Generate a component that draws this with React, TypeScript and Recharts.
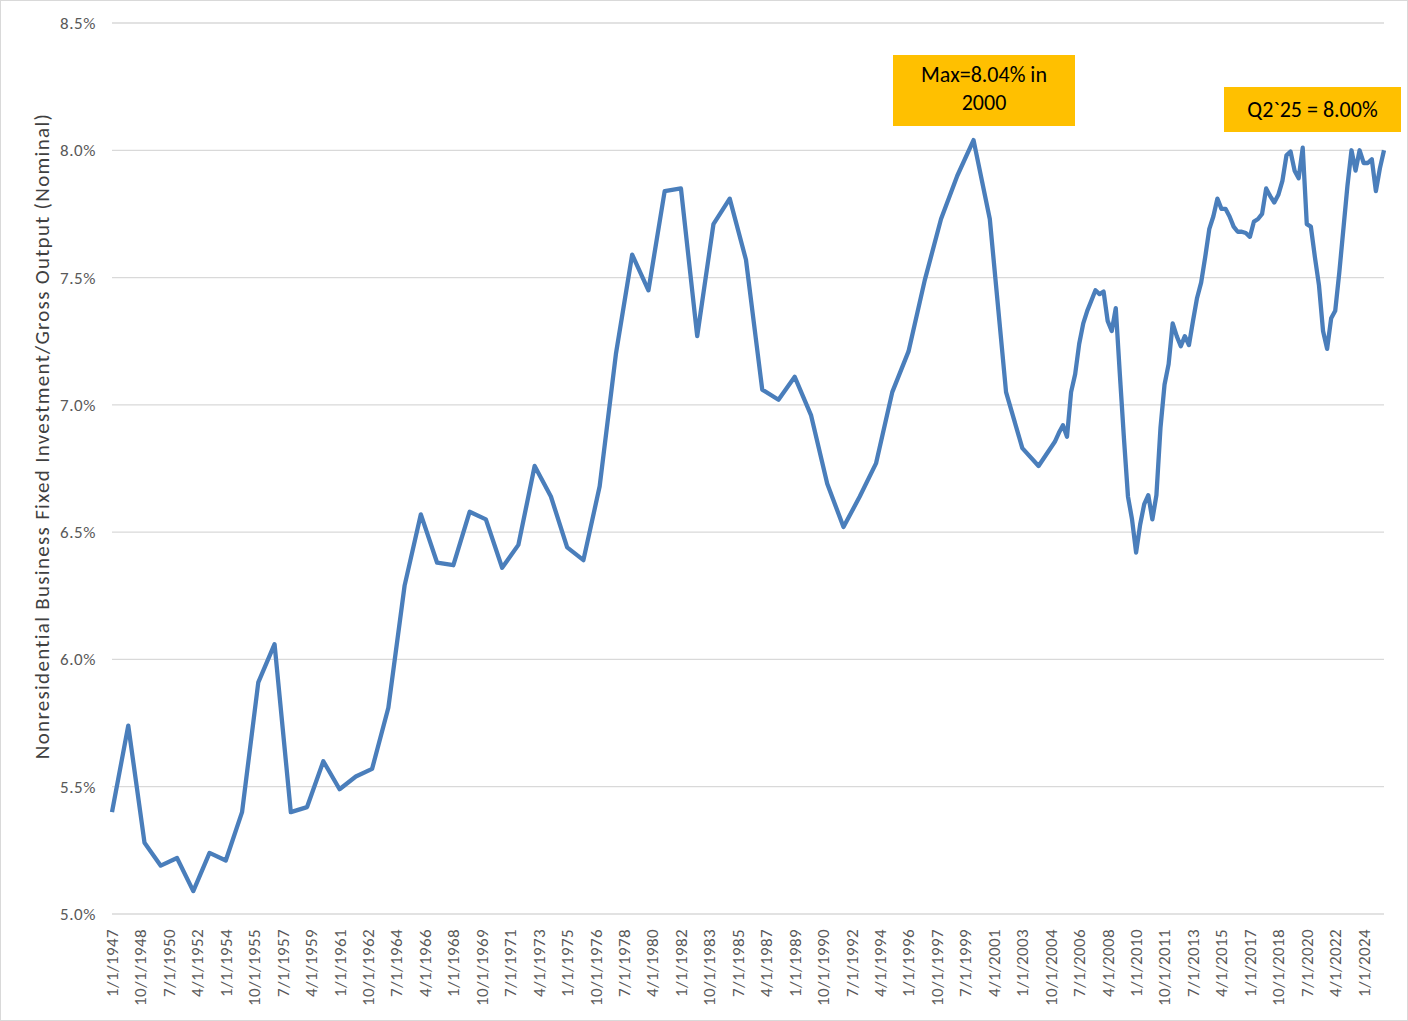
import { LineChart, Line, XAxis, YAxis, CartesianGrid } from 'recharts';

const FONT = 'Carlito, Calibri, Lato, sans-serif';

// annual ratio (%) 1947..2004
const annualValues = [
  5.4, 5.74, 5.28, 5.19, 5.22, 5.09, 5.24, 5.21, 5.4, 5.91,
  6.06, 5.4, 5.42, 5.6, 5.49, 5.54, 5.57, 5.81, 6.29, 6.57,
  6.38, 6.37, 6.58, 6.55, 6.36, 6.45, 6.76, 6.64, 6.44, 6.39,
  6.68, 7.2, 7.59, 7.45, 7.84, 7.85, 7.27, 7.71, 7.81, 7.57,
  7.06, 7.02, 7.11, 6.96, 6.69, 6.52, 6.64, 6.77, 7.05, 7.21,
  7.49, 7.73, 7.9, 8.04, 7.73, 7.05, 6.83, 6.76,
];

// quarterly ratio (%) 2005 Q1..2025 Q2
const quarterlyValues = [
  6.855, 6.89, 6.92, 6.875,
  7.05, 7.12, 7.24, 7.32,
  7.37, 7.41, 7.45, 7.435,
  7.445, 7.33, 7.29, 7.38,
  7.12, 6.87, 6.64, 6.55,
  6.42, 6.53, 6.61, 6.645,
  6.55, 6.645, 6.91, 7.08,
  7.16, 7.32, 7.27, 7.23,
  7.27, 7.235, 7.33, 7.42,
  7.48, 7.58, 7.69, 7.74,
  7.81, 7.77, 7.77, 7.74,
  7.7, 7.68, 7.68, 7.675,
  7.66, 7.72, 7.73, 7.75,
  7.85, 7.82, 7.795, 7.825,
  7.88, 7.98, 7.995, 7.92,
  7.89, 8.01, 7.71, 7.7,
  7.58, 7.47, 7.29, 7.22,
  7.34, 7.37, 7.52, 7.69,
  7.86, 8.0, 7.92, 8.0,
  7.95, 7.95, 7.965, 7.84,
  7.93, 8.0,
];

const xTickLabels = [
  '1/1/1947', '10/1/1948', '7/1/1950', '4/1/1952', '1/1/1954', '10/1/1955', '7/1/1957',
  '4/1/1959', '1/1/1961', '10/1/1962', '7/1/1964', '4/1/1966', '1/1/1968', '10/1/1969',
  '7/1/1971', '4/1/1973', '1/1/1975', '10/1/1976', '7/1/1978', '4/1/1980', '1/1/1982',
  '10/1/1983', '7/1/1985', '4/1/1987', '1/1/1989', '10/1/1990', '7/1/1992', '4/1/1994',
  '1/1/1996', '10/1/1997', '7/1/1999', '4/1/2001', '1/1/2003', '10/1/2004', '7/1/2006',
  '4/1/2008', '1/1/2010', '10/1/2011', '7/1/2013', '4/1/2015', '1/1/2017', '10/1/2018',
  '7/1/2020', '4/1/2022', '1/1/2024',
];

const yTicks = [5.0, 5.5, 6.0, 6.5, 7.0, 7.5, 8.0, 8.5];

const toYear = (label: string) => {
  const [m, , y] = label.split('/').map(Number);
  return y + (m - 1) / 12;
};

const xTicks = xTickLabels.map(toYear);

const data = [
  ...annualValues.map((v, i) => ({ t: 1947 + i, v })),
  ...quarterlyValues.map((v, i) => ({ t: 2005 + i / 4, v })),
];

function XTick({ x, y, payload }: any) {
  const idx = xTicks.findIndex((t) => Math.abs(t - payload.value) < 1e-6);
  return (
    <text
      x={x}
      y={y}
      transform={`rotate(-90 ${x} ${y})`}
      textAnchor="end"
      dy="0.35em"
      fill="#595959"
      fontSize={17}
      letterSpacing={0.4}
      fontFamily={FONT}
    >
      {xTickLabels[idx]}
    </text>
  );
}

const boxStyle: React.CSSProperties = {
  position: 'absolute',
  background: '#ffc000',
  color: '#000',
  fontFamily: FONT,
  fontSize: 22,
  textAlign: 'center',
  boxSizing: 'border-box',
};

export default function App() {
  return (
    <div
      style={{
        position: 'relative',
        width: 1408,
        height: 1021,
        border: '1px solid #d9d9d9',
        boxSizing: 'border-box',
        background: '#fff',
      }}
    >
      <style>{'body{margin:0}'}</style>
      <div style={{ position: 'absolute', left: -1, top: -1 }}>
        <LineChart width={1408} height={1021} data={data} margin={{ top: 23, right: 24, bottom: 0, left: 0 }}>
          <CartesianGrid vertical={false} stroke="#d9d9d9" strokeWidth={1.3} />
          <XAxis
            dataKey="t"
            type="number"
            domain={[1947, 2025.25]}
            ticks={xTicks}
            interval={0}
            height={107}
            axisLine={false}
            tickLine={false}
            tickSize={0}
            tickMargin={15}
            tick={<XTick />}
          />
          <YAxis
            domain={[5, 8.5]}
            ticks={yTicks}
            width={112}
            axisLine={false}
            tickLine={false}
            tickSize={0}
            tickMargin={16}
            tickFormatter={(v: number) => `${v.toFixed(1)}%`}
            tick={{ fill: '#595959', fontSize: 17, fontFamily: FONT, letterSpacing: 0.6 }}
          />
          <Line
            type="linear"
            dataKey="v"
            stroke="#4a7ebb"
            strokeWidth={4.3}
            strokeLinejoin="round"
            dot={false}
            isAnimationActive={false}
          />
        </LineChart>
      </div>
      <div
        style={{
          position: 'absolute',
          left: 41,
          top: 435,
          transform: 'translate(-50%, -50%) rotate(-90deg)',
          whiteSpace: 'nowrap',
          fontFamily: FONT,
          fontSize: 21,
          letterSpacing: 1.3,
          color: '#404040',
        }}
      >
        Nonresidential Business Fixed Investment/Gross Output (Nominal)
      </div>
      <div style={{ ...boxStyle, left: 892, top: 54, width: 182, height: 71, paddingTop: 6, lineHeight: '28px' }}>
        Max=8.04% in
        <br />
        2000
      </div>
      <div style={{ ...boxStyle, left: 1223, top: 86, width: 177, height: 45, lineHeight: '45px' }}>
        Q2`25 = 8.00%
      </div>
    </div>
  );
}
